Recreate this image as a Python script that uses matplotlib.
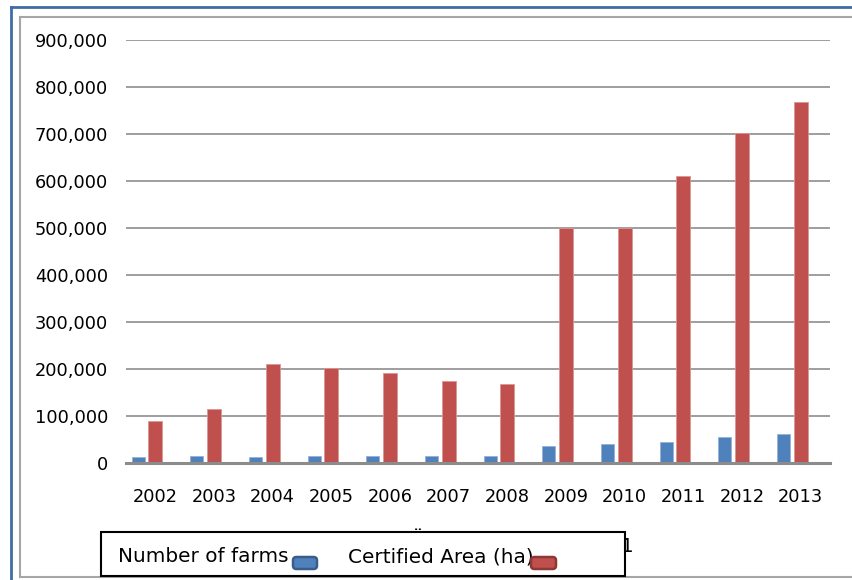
import matplotlib
matplotlib.use("Agg")
import matplotlib.pyplot as plt
from matplotlib.patches import Rectangle, FancyBboxPatch
from matplotlib.lines import Line2D
from matplotlib.ticker import FuncFormatter
import numpy as np

# Data
years = ["2002", "2003", "2004", "2005", "2006", "2007", "2008",
         "2009", "2010", "2011", "2012", "2013"]
farms = [11500, 15000, 11500, 15000, 15000, 15000, 15000,
         36000, 40000, 43000, 54000, 61000]
area_ha = [89000, 114000, 209000, 202000, 191000, 174000, 167000,
           500000, 500000, 611000, 701000, 767000]
series_names = ["Number of farms", "Certified Area (ha)"]

BLUE = "#4F81BD"
RED = "#C0504D"

W, H = 852, 580
fig = plt.figure(figsize=(W / 100, H / 100), dpi=100)
fig.patch.set_facecolor("white")


def fx(px):
    return px / W


def fy(py):
    return 1 - py / H


# Plot area
ax = fig.add_axes([fx(126), fy(462.7), fx(830) - fx(126), fy(39.7) - fy(462.7)])
x = np.arange(len(years))
ax.bar(x - 0.29, farms, width=0.222, color=BLUE, edgecolor="#95B3D7",
       linewidth=0.6, zorder=3)
ax.bar(x, area_ha, width=0.239, color=RED, edgecolor="#DA9694",
       linewidth=0.6, zorder=3)

ax.set_xlim(-0.5, len(years) - 0.5)
ax.set_ylim(0, 900000)
ax.set_yticks(np.arange(0, 900001, 100000))
ax.yaxis.set_major_formatter(FuncFormatter(lambda v, p: f"{int(v):,}"))
ax.set_xticks(x)
ax.set_xticklabels(years)
ax.grid(axis="y", color="#969696", linewidth=1.3, zorder=0)
ax.set_axisbelow(True)
for s in ["top", "right", "left"]:
    ax.spines[s].set_visible(False)
ax.spines["bottom"].set_color("#8C8C8C")
ax.spines["bottom"].set_linewidth(2.2)
ax.spines["bottom"].set_zorder(4)
ax.tick_params(axis="both", length=0, labelsize=12.8, colors="black")
ax.tick_params(axis="y", pad=13)
ax.tick_params(axis="x", pad=18)

# Chart frames
fig.add_artist(Line2D([fx(10.5), fx(10.5)], [fy(6.5), 0], color="#3E6CA6",
                      linewidth=2, transform=fig.transFigure))
fig.add_artist(Line2D([fx(10.5), 1], [fy(6.5), fy(6.5)], color="#3E6CA6",
                      linewidth=2, transform=fig.transFigure))
fig.add_artist(Line2D([fx(20), fx(20)], [fy(17), fy(577)], color="#A6A6A6",
                      linewidth=1.5, transform=fig.transFigure))
fig.add_artist(Line2D([fx(20), 1], [fy(17), fy(17)], color="#A6A6A6",
                      linewidth=1.5, transform=fig.transFigure))
fig.add_artist(Line2D([fx(20), 1], [fy(577), fy(577)], color="#A6A6A6",
                      linewidth=1.5, transform=fig.transFigure))

# Stray title fragments partly covered by the legend box
fig.text(fx(627), fy(547), "1", fontsize=14.4, ha="center", va="center",
         zorder=1)
fig.text(fx(418), fy(543), "\u00a8", fontsize=14.4, ha="center",
         va="baseline", zorder=1)

# Legend box
fig.add_artist(Rectangle((fx(101), fy(576)), fx(625) - fx(101),
                         fy(532) - fy(576), transform=fig.transFigure,
                         facecolor="white", edgecolor="black", linewidth=1.5,
                         zorder=5))
fig.text(fx(118), fy(557), series_names[0], fontsize=14.4, ha="left",
         va="center", zorder=6)
fig.text(fx(348), fy(557), series_names[1], fontsize=14.4, ha="left",
         va="center", zorder=6)


def legend_patch(x0, x1, face, edge):
    p = FancyBboxPatch((fx(x0), fy(569)), fx(x1) - fx(x0), fy(557) - fy(569),
                       boxstyle="round,pad=0,rounding_size=0.004",
                       transform=fig.transFigure, facecolor=face,
                       edgecolor=edge, linewidth=1.8, zorder=7,
                       mutation_aspect=W / H)
    fig.add_artist(p)


legend_patch(293, 317, BLUE, "#385D8A")
legend_patch(531, 556, RED, "#8C3836")

fig.savefig("out.png", dpi=100, facecolor="white")
